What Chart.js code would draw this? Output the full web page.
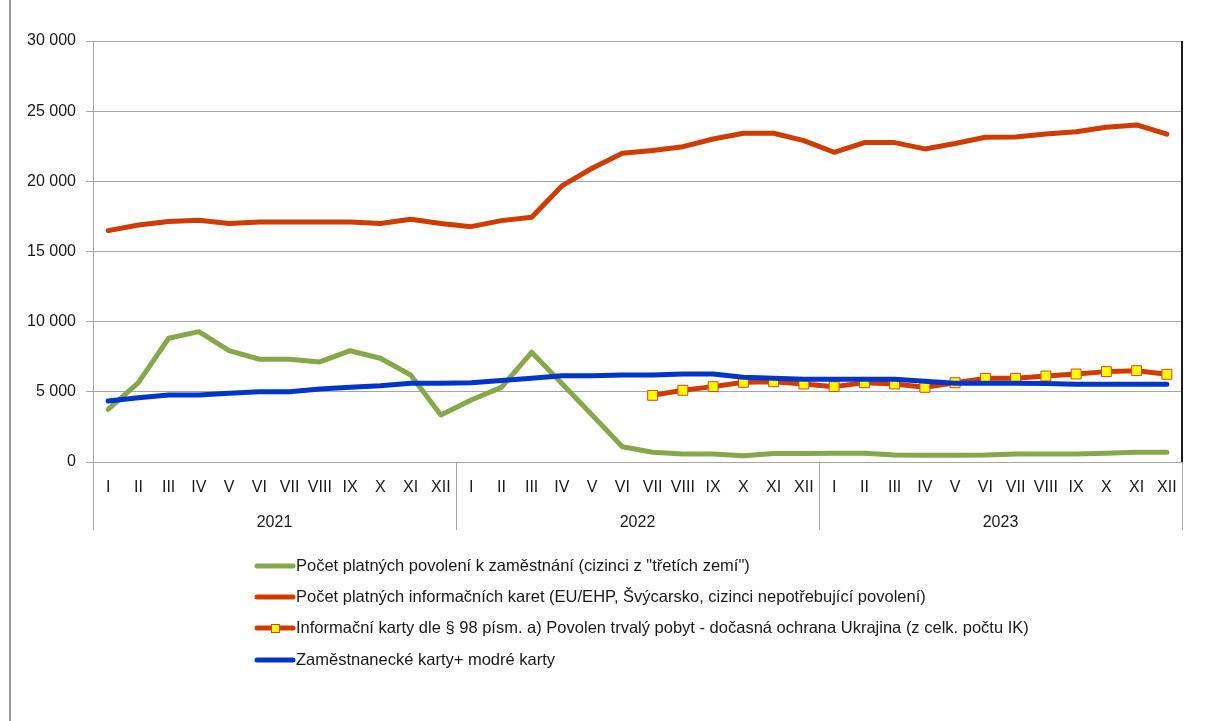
<!DOCTYPE html>
<html>
<head>
<meta charset="utf-8">
<script src="https://cdn.jsdelivr.net/npm/chart.js@4"></script>
<style>
  html, body { margin: 0; padding: 0; background: #fff; }
  #wrap { position: relative; width: 1214px; height: 721px; }
</style>
</head>
<body>
<div id="wrap"><canvas id="c" width="1214" height="721"></canvas></div>
<script>
// Month tick labels and year groups of the two-level category axis
const months = ['I', 'II', 'III', 'IV', 'V', 'VI', 'VII', 'VIII', 'IX', 'X', 'XI', 'XII'];
const years = ['2021', '2022', '2023'];
const yTicks = [0, 5000, 10000, 15000, 20000, 25000, 30000];

// Series names
const seriesNames = [
  'Počet platných povolení k zaměstnání (cizinci z "třetích zemí")',
  'Počet platných informačních karet (EU/EHP, Švýcarsko, cizinci nepotřebující povolení)',
  'Informační karty dle § 98 písm. a) Povolen trvalý pobyt - dočasná ochrana Ukrajina (z celk. počtu IK)',
  'Zaměstnanecké karty+ modré karty'
];

// Monthly values, I/2021 – XII/2023
const permits = [
  3750, 5650, 8820, 9290, 7930, 7320, 7320, 7130, 7930, 7390, 6200, 3350,
  4420, 5320, 7820, 5600, 3350, 1090, 690, 570, 570, 450, 600, 600,
  620, 620, 500, 480, 480, 500, 570, 570, 570, 620, 690, 690
];
const infoCards = [
  16490, 16890, 17130, 17220, 17000, 17100, 17100, 17100, 17100, 17000, 17300, 17000,
  16770, 17200, 17440, 19670, 20930, 22000, 22190, 22470, 23020, 23430, 23430, 22900,
  22070, 22760, 22760, 22310, 22700, 23140, 23160, 23380, 23540, 23850, 24020, 23360
];
const ukraineCards = [
  null, null, null, null, null, null, null, null, null, null, null, null,
  null, null, null, null, null, null, 4750, 5110, 5370, 5680, 5720, 5560,
  5370, 5650, 5560, 5320, 5650, 5960, 5960, 6130, 6270, 6440, 6510, 6250
];
const employeeCards = [
  4350, 4580, 4780, 4780, 4900, 5010, 5010, 5200, 5320, 5440, 5610, 5610,
  5650, 5800, 5960, 6150, 6150, 6200, 6200, 6270, 6270, 6040, 5960, 5890,
  5890, 5890, 5890, 5750, 5610, 5610, 5610, 5600, 5540, 5540, 5540, 5540
];

const GREEN = '#86A84B';
const RED = '#D03C00';
const BLUE = '#0035CC';
const YELLOW = '#FFFF00';
const MARK_EDGE = '#E0401A';
const GRID = '#A6A6A6';
const TEXT = '#1a1a1a';
const FONT = "'Liberation Sans', Arial, sans-serif";

const labels = years.flatMap(() => months);

const fmt = v => String(v).replace(/\B(?=(\d{3})+(?!\d))/g, ' ');

// Year labels, group separators, frame lines and the legend
const decorations = {
  id: 'decorations',
  afterDraw(chart) {
    const ctx = chart.ctx;
    const x = chart.scales.x;
    const area = chart.chartArea;
    const bottom = area.bottom + 68;
    ctx.save();

    // outer frame line on the left
    ctx.strokeStyle = '#9a9a9a';
    ctx.lineWidth = 2;
    ctx.beginPath();
    ctx.moveTo(10, 0);
    ctx.lineTo(10, 721);
    ctx.stroke();

    // dark right edge of the plot
    ctx.strokeStyle = '#1c1c1c';
    ctx.lineWidth = 2;
    ctx.beginPath();
    ctx.moveTo(area.right, area.top);
    ctx.lineTo(area.right, area.bottom);
    ctx.stroke();

    // year group separators
    ctx.strokeStyle = GRID;
    ctx.lineWidth = 1;
    const n = months.length;
    const edges = [];
    for (let g = 0; g <= years.length; g++) {
      let px;
      if (g === 0) px = area.left;
      else if (g === years.length) px = area.right;
      else px = (x.getPixelForValue(g * n - 1) + x.getPixelForValue(g * n)) / 2;
      edges.push(px);
      const xx = Math.round(px) + 0.5;
      ctx.beginPath();
      ctx.moveTo(xx, area.bottom);
      ctx.lineTo(xx, bottom);
      ctx.stroke();
    }

    // year labels
    ctx.fillStyle = TEXT;
    ctx.font = '16px ' + FONT;
    ctx.textAlign = 'center';
    ctx.textBaseline = 'middle';
    years.forEach((y, i) => {
      ctx.fillText(y, (edges[i] + edges[i + 1]) / 2, area.bottom + 61);
    });

    // legend, one series per row
    const rowY = [566, 597, 628, 660];
    const x0 = 257, x1 = 293;
    chart.data.datasets.forEach((ds, i) => {
      const yy = rowY[i];
      ctx.strokeStyle = ds.borderColor;
      ctx.lineWidth = 5;
      ctx.lineCap = 'round';
      ctx.beginPath();
      ctx.moveTo(x0, yy);
      ctx.lineTo(x1, yy);
      ctx.stroke();
      if (ds.pointRadius > 0) {
        ctx.fillStyle = ds.pointBackgroundColor;
        ctx.strokeStyle = ds.pointBorderColor;
        ctx.lineWidth = 1;
        ctx.fillRect(271, yy - 4, 9, 9);
        ctx.strokeRect(271.5, yy - 3.5, 8, 8);
      }
      ctx.fillStyle = TEXT;
      ctx.font = '16.5px ' + FONT;
      ctx.textAlign = 'left';
      ctx.textBaseline = 'middle';
      ctx.fillText(ds.label, 296, yy);
    });
    ctx.restore();
  }
};

const lineStyle = (color) => ({
  borderColor: color,
  backgroundColor: color,
  borderWidth: 5,
  borderCapStyle: 'round',
  borderJoinStyle: 'round',
  pointRadius: 0,
  pointHoverRadius: 0,
  tension: 0,
  fill: false
});

new Chart(document.getElementById('c'), {
  type: 'line',
  data: {
    labels,
    datasets: [
      Object.assign({ label: seriesNames[0], data: permits, order: 4 }, lineStyle(GREEN)),
      Object.assign({ label: seriesNames[1], data: infoCards, order: 3 }, lineStyle(RED)),
      Object.assign({ label: seriesNames[2], data: ukraineCards, order: 2 }, lineStyle(RED), {
        pointRadius: 7,
        pointStyle: 'rect',
        pointBackgroundColor: YELLOW,
        pointBorderColor: MARK_EDGE,
        pointBorderWidth: 1
      }),
      Object.assign({ label: seriesNames[3], data: employeeCards, order: 1 }, lineStyle(BLUE))
    ]
  },
  options: {
    responsive: false,
    animation: false,
    events: [],
    layout: { padding: { left: 0, top: 41, right: 32, bottom: 191 } },
    plugins: {
      legend: { display: false },
      tooltip: { enabled: false }
    },
    scales: {
      y: {
        min: 0,
        max: 30000,
        afterFit(scale) { scale.width = 93; },
        afterBuildTicks(scale) { scale.ticks = yTicks.map(v => ({ value: v })); },
        ticks: {
          callback: v => fmt(v),
          color: TEXT,
          font: { family: FONT, size: 16 },
          padding: 10
        },
        grid: { color: GRID, lineWidth: 1, tickLength: 7, drawTicks: true },
        border: { color: GRID, width: 1 }
      },
      x: {
        offset: true,
        afterFit(scale) { scale.height = 68; },
        ticks: {
          autoSkip: false,
          maxRotation: 0,
          minRotation: 0,
          color: TEXT,
          font: { family: FONT, size: 16 },
          padding: 16
        },
        grid: { display: false, drawTicks: false, offset: true },
        border: { color: GRID, width: 1 }
      }
    }
  },
  plugins: [decorations]
});
</script>
</body>
</html>
